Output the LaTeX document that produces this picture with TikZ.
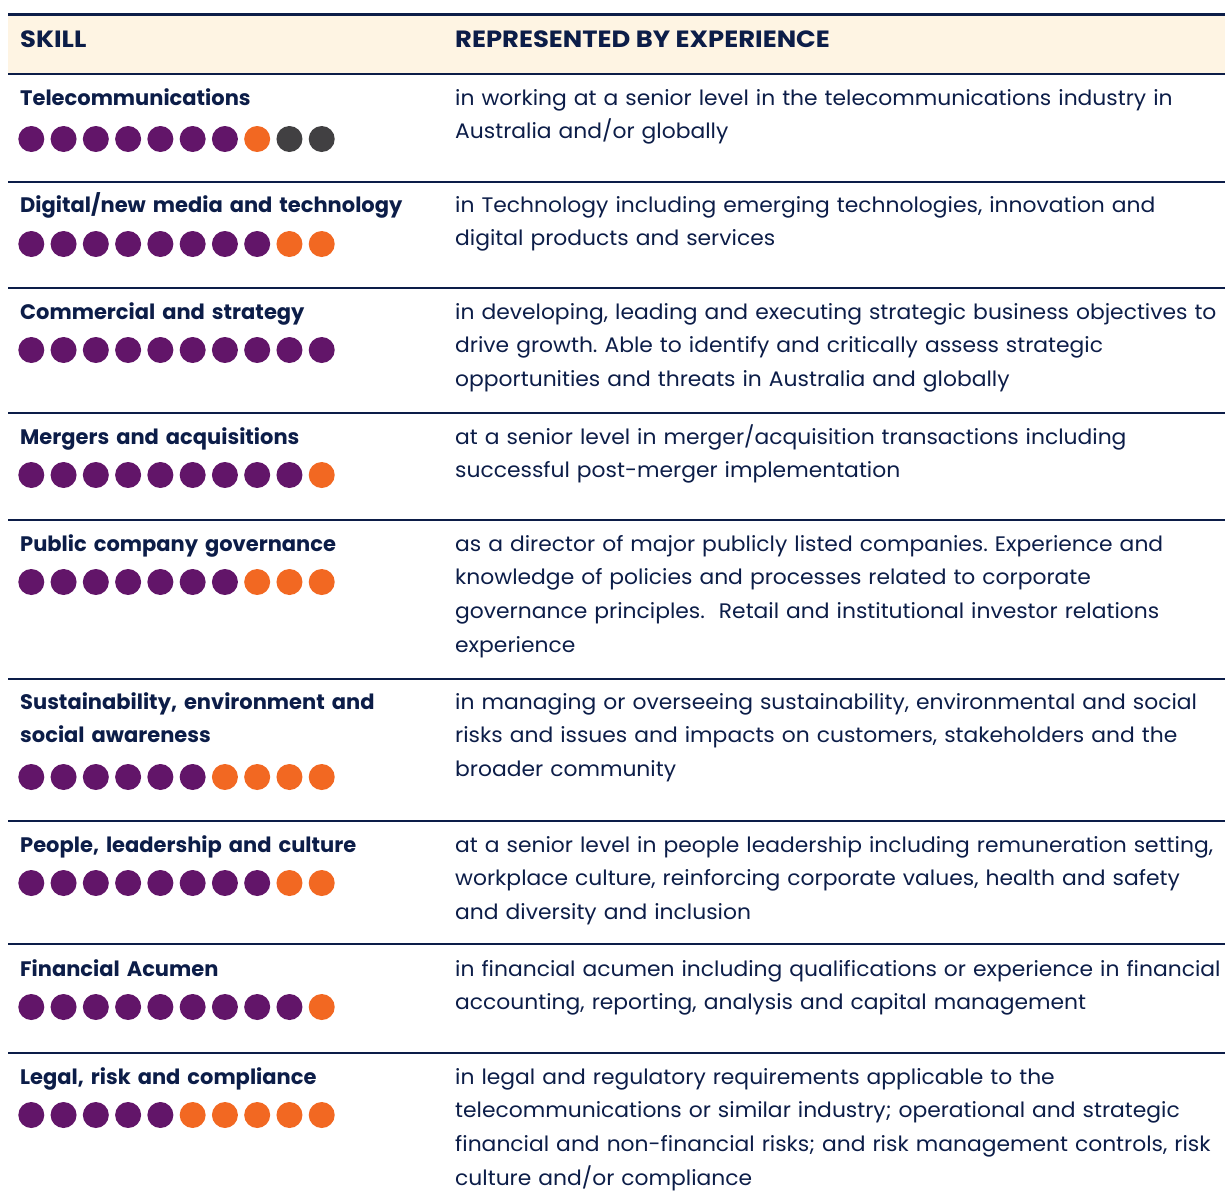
\documentclass[tikz,border=0pt]{standalone}
\usepackage{fontspec}
\setmainfont{Poppins}
\newfontfamily\bodyfont{Poppins}[FakeStretch=1.04]
\newfontfamily\hdrfont{Poppins}[FakeStretch=1.1]
\definecolor{navy}{HTML}{0C1D48}
\definecolor{headfill}{HTML}{FEF4E3}
\definecolor{dotP}{HTML}{621569}
\definecolor{dotO}{HTML}{F26822}
\definecolor{dotG}{HTML}{414042}
\tikzset{
  hdr/.style={anchor=base west, inner sep=0pt, text=navy, font=\hdrfont\fontsize{23.5}{25}\selectfont\bfseries},
  skilltitle/.style={anchor=base west, inner sep=0pt, text=navy, align=left, text width=420pt, font=\fontsize{21}{33.7}\selectfont\bfseries},
  bodytext/.style={anchor=base west, inner sep=0pt, text=navy, align=left, text width=800pt, font=\bodyfont\fontsize{21}{33.7}\selectfont},
  thickrule/.style={draw=navy, line width=2.6pt},
  thinrule/.style={draw=navy, line width=1.1pt}
}
\newcommand{\dotrow}[2]{%
  \foreach \c [count=\i from 0] in {#2} \fill[dot\c] (31.3+32.27*\i,#1) circle (13);}
\frenchspacing
\begin{document}
\begin{tikzpicture}[x=1pt,y=-1pt]
\useasboundingbox (0,0) rectangle (1225,1202);
% header
\fill[headfill] (8,15.5) rectangle (1225,73);
\coordinate (tl) at (8,14.5); \coordinate (tr) at (1225,14.5);
\coordinate (hl) at (8,74); \coordinate (hr) at (1225,74);
\draw[thickrule] (tl) -- (tr);
\draw[thickrule] (hl) -- (hr);
\node[hdr] (hskill) at (20,47) {SKILL};
\node[hdr] (hexp) at (455,47) {REPRESENTED BY EXPERIENCE};
% separators
\foreach \y/\n in {182/1,288/2,413/3,520/4,679/5,821/6,944/7,1053/8}{
  \coordinate (sl\n) at (8,\y); \coordinate (sr\n) at (1225,\y);
  \draw[thinrule] (sl\n) -- (sr\n);
}
% row 1
\node[skilltitle] (t1) at (20,105) {Telecommunications};
\node[bodytext] (b1) at (455,105) {in working at a senior level in the telecommunications industry in\\Australia and/or globally};
\dotrow{139}{P,P,P,P,P,P,P,O,G,G}
% row 2
\node[skilltitle] (t2) at (20,212) {Digital/new media and technology};
\node[bodytext] (b2) at (455,212) {in Technology including emerging technologies, innovation and\\digital products and services};
\dotrow{244}{P,P,P,P,P,P,P,P,O,O}
% row 3
\node[skilltitle] (t3) at (20,319) {Commercial and strategy};
\node[bodytext] (b3) at (455,319) {in developing, leading and executing strategic business objectives to\\drive growth. Able to identify and critically assess strategic\\opportunities and threats in Australia and globally};
\dotrow{350}{P,P,P,P,P,P,P,P,P,P}
% row 4
\node[skilltitle] (t4) at (20,444) {Mergers and acquisitions};
\node[bodytext] (b4) at (455,444) {at a senior level in merger/acquisition transactions including\\successful post-merger implementation};
\dotrow{475}{P,P,P,P,P,P,P,P,P,O}
% row 5
\node[skilltitle] (t5) at (20,551) {Public company governance};
\node[bodytext] (b5) at (455,551) {as a director of major publicly listed companies. Experience and\\knowledge of policies and processes related to corporate\\governance principles.\ \ Retail and institutional investor relations\\experience};
\dotrow{582}{P,P,P,P,P,P,P,O,O,O}
% row 6
\node[skilltitle] (t6) at (20,709) {Sustainability, environment and\\social awareness};
\node[bodytext] (b6) at (455,709) {in managing or overseeing sustainability, environmental and social\\risks and issues and impacts on customers, stakeholders and the\\broader community};
\dotrow{777}{P,P,P,P,P,P,O,O,O,O}
% row 7
\node[skilltitle] (t7) at (20,852) {People, leadership and culture};
\node[bodytext] (b7) at (455,852) {at a senior level in people leadership including remuneration setting,\\workplace culture, reinforcing corporate values, health and safety\\and diversity and inclusion};
\dotrow{883}{P,P,P,P,P,P,P,P,O,O}
% row 8
\node[skilltitle] (t8) at (20,976) {Financial Acumen};
\node[bodytext] (b8) at (455,976) {in financial acumen including qualifications or experience in financial\\accounting, reporting, analysis and capital management};
\dotrow{1007}{P,P,P,P,P,P,P,P,P,O}
% row 9
\node[skilltitle] (t9) at (20,1084) {Legal, risk and compliance};
\node[bodytext] (b9) at (455,1084) {in legal and regulatory requirements applicable to the\\telecommunications or similar industry; operational and strategic\\financial and non-financial risks; and risk management controls, risk\\culture and/or compliance};
\dotrow{1115}{P,P,P,P,P,O,O,O,O,O}
\end{tikzpicture}
\end{document}
